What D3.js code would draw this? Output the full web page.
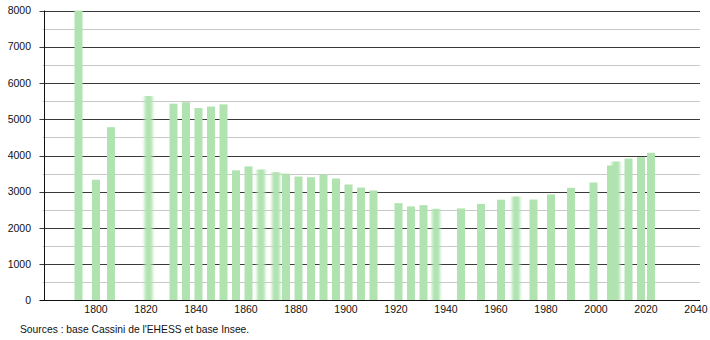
<!DOCTYPE html>
<html>
<head>
<meta charset="utf-8">
<script src="https://cdn.jsdelivr.net/npm/d3@7"></script>
<style>
  body { margin: 0; background: #fff; }
  text { font-family: "Liberation Sans", Arial, sans-serif; fill: #111; }
</style>
</head>
<body>
<svg id="chart" width="710" height="340"></svg>
<script>
// census years and population
const years = [1793, 1800, 1806, 1821, 1831, 1836, 1841, 1846, 1851, 1856,
  1861, 1866, 1872, 1876, 1881, 1886, 1891, 1896, 1901, 1906, 1911,
  1921, 1926, 1931, 1936, 1946, 1954, 1962, 1968, 1975, 1982, 1990,
  1999, 2006, 2008, 2013, 2018, 2022];
const population = [8000, 3330, 4780, 5640, 5430, 5470, 5310, 5350, 5410, 3590,
  3700, 3615, 3540, 3500, 3420, 3400, 3475, 3365, 3200, 3115, 3035,
  2685, 2595, 2630, 2530, 2540, 2665, 2780, 2870, 2785, 2925, 3110,
  3255, 3725, 3835, 3915, 3955, 4075];
// bars that look smeared in the original picture
const blurredYears = [1821, 1866, 1872, 1936, 1968, 2008];
const xTicks = [1800, 1820, 1840, 1860, 1880, 1900, 1920, 1940, 1960, 1980, 2000, 2020, 2040];
const yTicks = [0, 1000, 2000, 3000, 4000, 5000, 6000, 7000, 8000];
const yMinor = [500, 1500, 2500, 3500, 4500, 5500, 6500, 7500];
const source = "Sources : base Cassini de l'EHESS et base Insee.";

const svg = d3.select("#chart");
const plotL = 44.5, plotR = 700, plotT = 10.5, plotB = 300.5;

const x = d3.scaleLinear().domain([1780, 2042]).range([plotL + 1.5, plotR + 1]);
const y = d3.scaleLinear().domain([0, 8000]).range([plotB, plotT]);

const defs = svg.append("defs");
defs.append("filter").attr("id", "smear")
  .attr("x", "-50%").attr("width", "200%")
  .append("feGaussianBlur").attr("stdDeviation", "1.7 0.6");

// grid
svg.append("g").selectAll("line")
  .data(yMinor).enter().append("line")
  .attr("x1", plotL - 2).attr("x2", plotR)
  .attr("y1", d => Math.round(y(d)) + 0.5).attr("y2", d => Math.round(y(d)) + 0.5)
  .attr("stroke", "#c8c8c8").attr("stroke-width", 1);

svg.append("g").selectAll("line")
  .data(yTicks.slice(1)).enter().append("line")
  .attr("x1", plotL - 5).attr("x2", plotR)
  .attr("y1", d => Math.round(y(d)) + 0.5).attr("y2", d => Math.round(y(d)) + 0.5)
  .attr("stroke", "#3a3a3a").attr("stroke-width", 1);

// bars
const data = years.map((yr, i) => ({year: yr, value: population[i]}));
const barW = 8;
svg.append("g").selectAll("rect")
  .data(data).enter().append("rect")
  .attr("x", d => x(d.year) - barW / 2)
  .attr("width", barW)
  .attr("y", d => y(d.value))
  .attr("height", d => plotB - y(d.value))
  .attr("fill", "#b0e3b0")
  .attr("filter", d => blurredYears.includes(d.year) ? "url(#smear)" : null);

// axes
svg.append("line")
  .attr("x1", plotL).attr("x2", plotL).attr("y1", plotT).attr("y2", plotB)
  .attr("stroke", "#111");
svg.append("line")
  .attr("x1", plotL - 5).attr("x2", plotR).attr("y1", plotB).attr("y2", plotB)
  .attr("stroke", "#111");

svg.append("g").selectAll("text")
  .data(yTicks).enter().append("text")
  .attr("x", 31).attr("y", d => y(d))
  .attr("dy", "0.35em")
  .attr("text-anchor", "end")
  .attr("font-size", "10.5px")
  .text(d => d);

svg.append("g").selectAll("text")
  .data(xTicks).enter().append("text")
  .attr("x", d => x(d))
  .attr("y", 312.5)
  .attr("text-anchor", "middle")
  .attr("font-size", "10.5px")
  .text(d => d);

svg.append("text")
  .attr("x", 20).attr("y", 332.5)
  .attr("font-size", "10.3px")
  .text(source);
</script>
</body>
</html>
